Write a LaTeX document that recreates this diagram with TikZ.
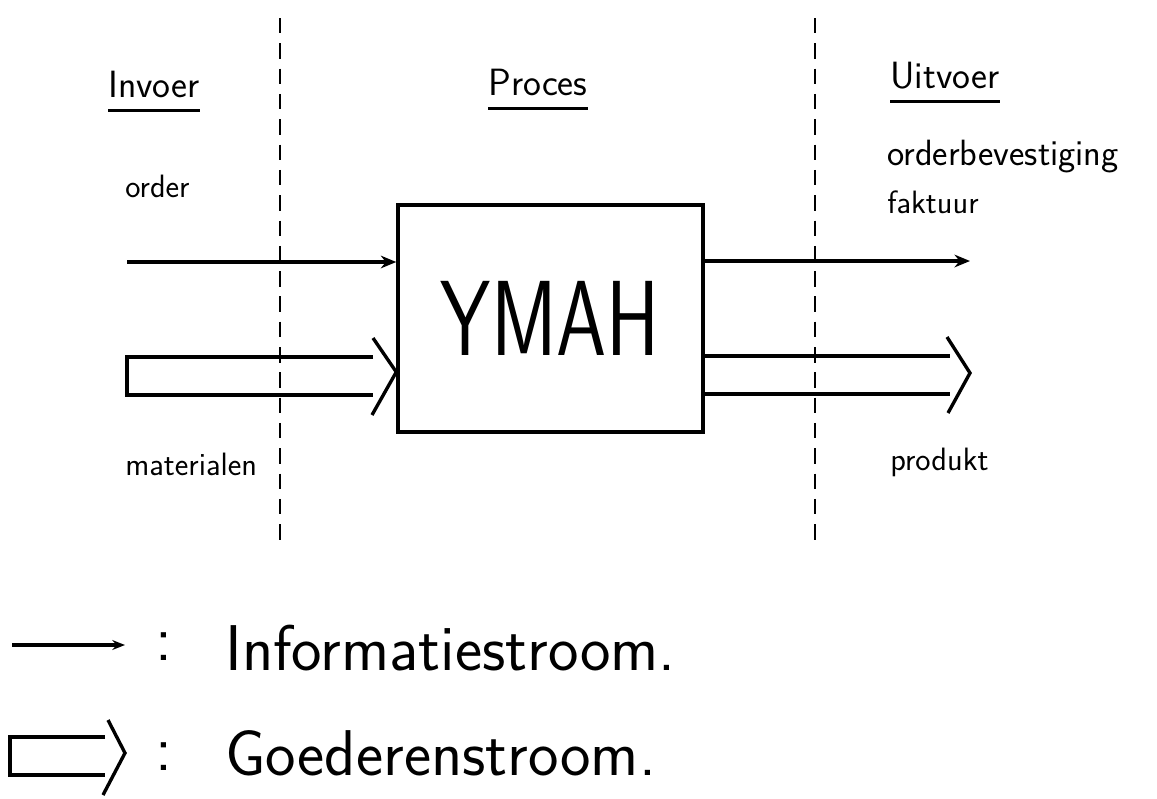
\documentclass[tikz,border=0pt]{standalone}
\renewcommand{\familydefault}{\sfdefault}
\usetikzlibrary{positioning,arrows.meta,calc}

\tikzset{
  head/.style={anchor=base west,inner xsep=0pt,inner ysep=9pt,font=\fontsize{27}{30}\selectfont},
  lbl/.style={anchor=base west,inner sep=0pt,font=\fontsize{23}{26}\selectfont},
  legend/.style={anchor=base west,inner sep=0pt,font=\fontsize{46}{50}\selectfont},
  divider/.style={line width=1.6pt,dash pattern=on 11pt off 7pt},
  info/.style={line width=2.2pt,-{Stealth[length=11pt,width=9pt]}},
  goods/.style={line width=2.4pt,line join=miter},
}

\begin{document}
\begin{tikzpicture}[x=0.025cm,y=-0.025cm]
\useasboundingbox (0,0) rectangle (1157,798);

% Column dividers
\coordinate (d1top) at (280,18);
\coordinate (d1bot) at (280,548);
\coordinate (d2top) at (815,18);
\coordinate (d2bot) at (815,548);
\draw[divider] (d1top) -- (d1bot);
\draw[divider] (d2top) -- (d2bot);

% Headings
\node[head] (invoer) at (108,97) {Invoer};
\node[head] (proces) at (488,95) {Proces};
\node[head] (uitvoer) at (890,88) {Uitvoer};
\draw[line width=2.4pt] (invoer.south west) -- (invoer.south east);
\draw[line width=2.4pt] (proces.south west) -- (proces.south east);
\draw[line width=2.4pt] (uitvoer.south west) -- (uitvoer.south east);

% Process box
\node[draw,line width=2.4pt,minimum width=7.625cm,minimum height=5.675cm,
      font=\fontsize{76}{80}\selectfont] (ymah) at (550.5,318.5) {\scalebox{0.75}[1]{YMAH}};

% Labels
\node[lbl] (order) at (125,197) {order};
\node[lbl,font=\fontsize{26}{28}\selectfont] (bevest) at (887,165) {orderbevestiging};
\node[lbl] (faktuur) at (887,213) {faktuur};
\node[lbl] (materialen) at (125,475) {materialen};
\node[lbl] (produkt) at (890,470) {produkt};

% Information flows
\coordinate (orderin) at (127,262);
\coordinate (factout) at (970,261);
\draw[info] (orderin) -- (orderin -| ymah.west);
\draw[info] (ymah.east |- factout) -- (factout);

% Goods in
\coordinate (gin) at (127,357);
\draw[goods] (373,357) -- (gin) -- (127,395) -- (373,395);
\draw[goods] (373,338) -- (ymah.west |- 0,372) -- (372,415);

% Goods out
\draw[goods] (ymah.east |- 0,356) -- (950,356);
\draw[goods] (ymah.east |- 0,394) -- (950,394);
\draw[goods] (947,337) -- (970,373) -- (948,413);

% Legend
\coordinate (lia) at (12,645);
\coordinate (lib) at (125,645);
\draw[line width=2.2pt,-{Stealth[length=9pt,width=7pt]}] (lia) -- (lib);
\node[legend] (colon1) at (155,660) {:};
\node[legend] (infostroom) at (225,670) {Informatiestroom.};

\draw[goods] (105,737) -- (10,737) -- (10,775) -- (105,775);
\draw[goods] (108,720) -- (125,753) -- (103,795);
\node[legend] (colon2) at (155,770) {:};
\node[legend] (goedstroom) at (225,775) {Goederenstroom.};
\end{tikzpicture}
\end{document}
